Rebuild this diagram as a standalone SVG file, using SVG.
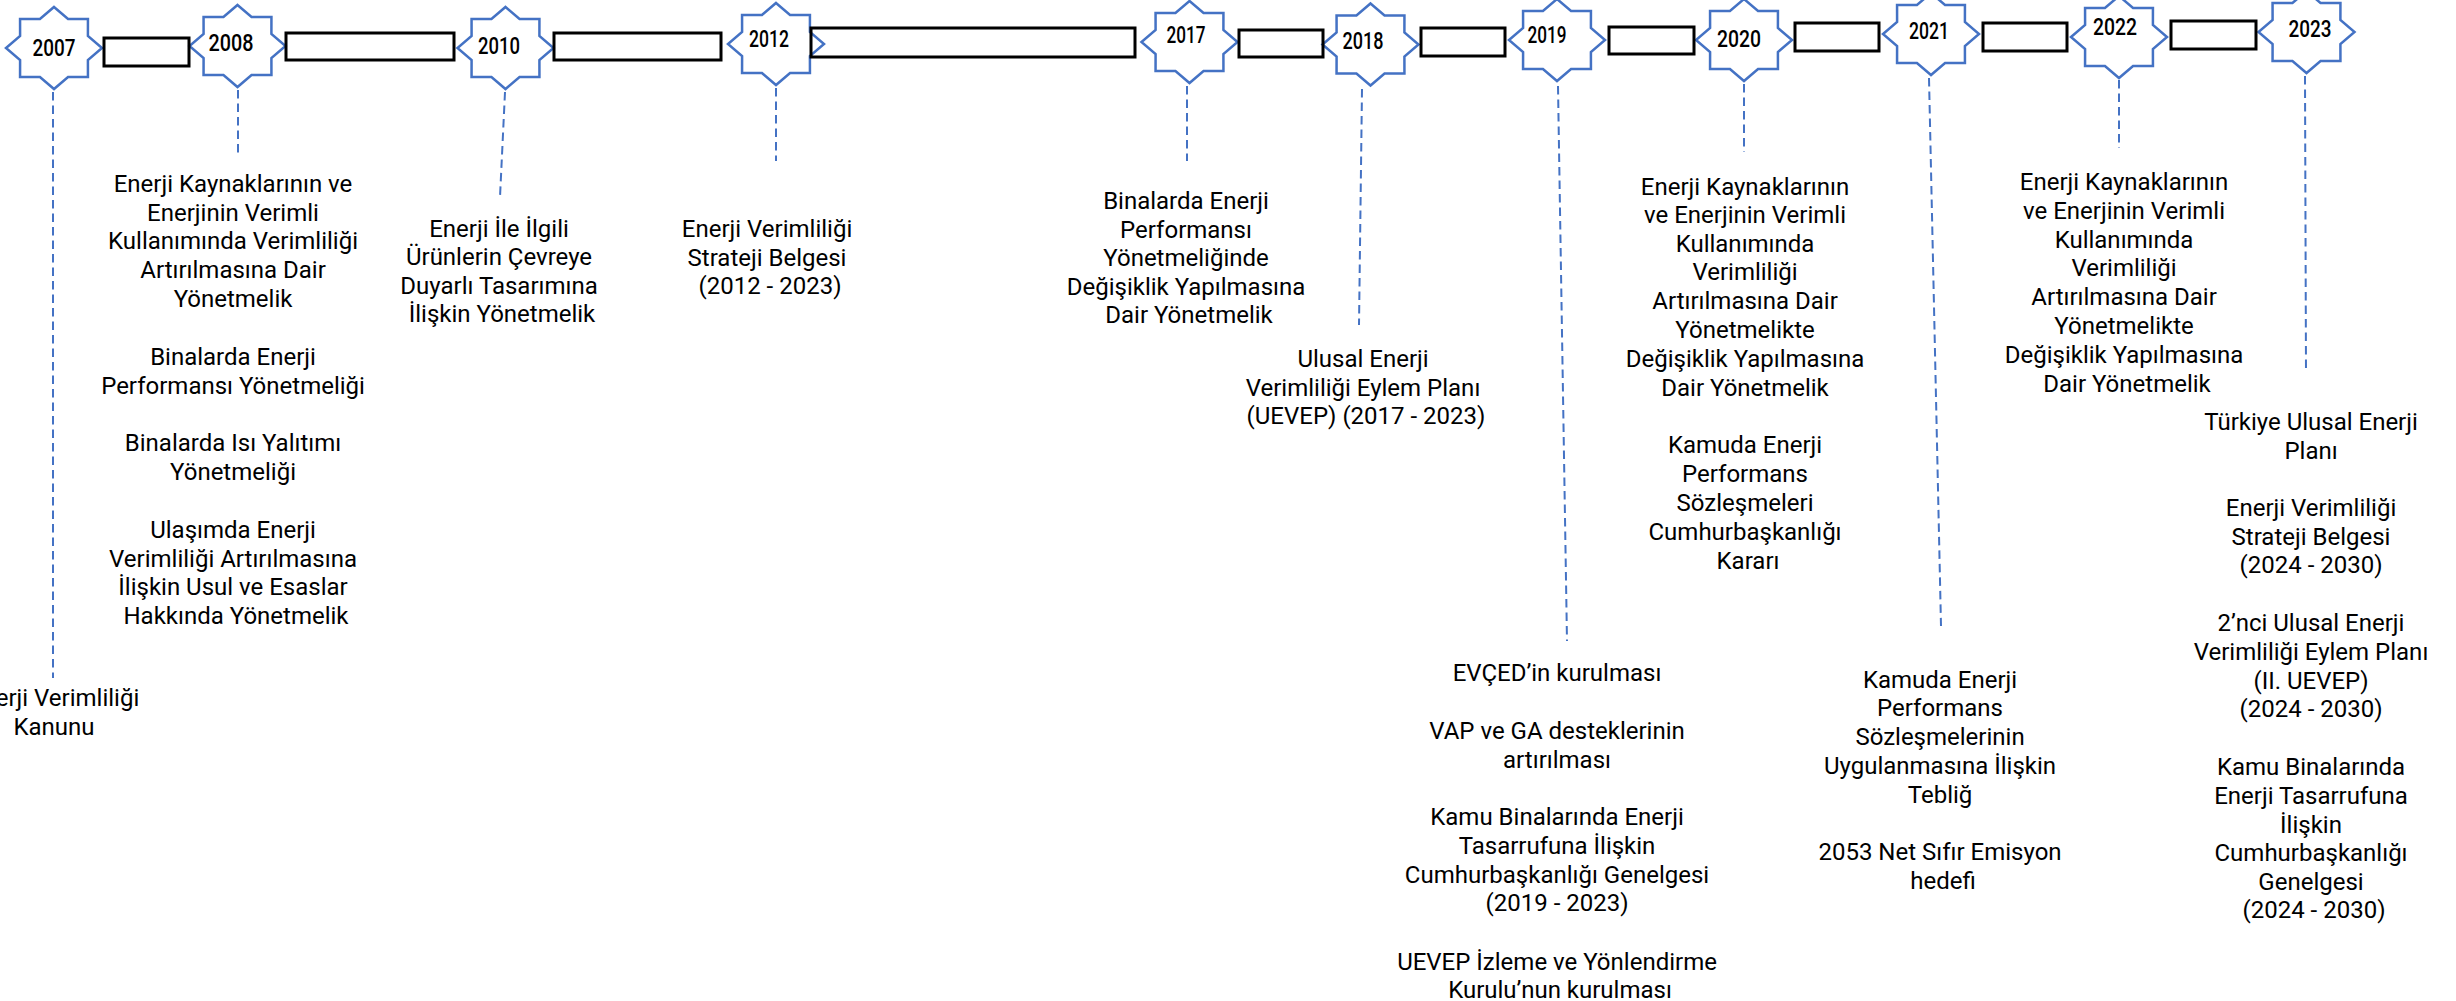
<svg xmlns="http://www.w3.org/2000/svg" xmlns:xlink="http://www.w3.org/1999/xlink" width="2456" height="1001" viewBox="0 0 2456 1001">
<defs>
<style>
.star{fill:#fff;stroke:#4472C4;stroke-width:2.5;stroke-linejoin:miter}
.bar{fill:none;stroke:#000;stroke-width:3}
.dash{fill:none;stroke:#4472C4;stroke-width:2;stroke-dasharray:8.5 5}
.yr{font-family:Roboto,"Liberation Sans",sans-serif;font-size:23px;font-weight:500;fill:#000;text-anchor:middle}
.tx{font-family:Roboto,"Liberation Sans",sans-serif;font-size:24px;font-weight:400;fill:#000;text-anchor:middle}
</style>
<path id="star8" d="M0,-41 L14.05,-29 L33.94,-29 L33.91,-12 L48,0 L33.91,12 L33.94,29 L14.05,29 L0,41 L-14.05,29 L-33.94,29 L-33.91,12 L-48,0 L-33.91,-12 L-33.94,-29 L-14.05,-29 Z"/>
</defs>
<rect width="2456" height="1001" fill="#fff"/>

<g id="connectors">
<line class="dash" x1="53" y1="92" x2="53" y2="678"/>
<line class="dash" x1="238" y1="90" x2="238" y2="157"/>
<line class="dash" x1="505" y1="92" x2="500" y2="197"/>
<line class="dash" x1="776" y1="88" x2="776" y2="161"/>
<line class="dash" x1="1187" y1="86" x2="1187" y2="161"/>
<line class="dash" x1="1362" y1="89" x2="1359" y2="325"/>
<line class="dash" x1="1558" y1="86" x2="1567" y2="641"/>
<line class="dash" x1="1744" y1="84" x2="1744" y2="152"/>
<line class="dash" x1="1929" y1="78" x2="1941" y2="626"/>
<line class="dash" x1="2119" y1="80" x2="2119" y2="148"/>
<line class="dash" x1="2305" y1="76" x2="2306" y2="373"/>
</g>

<g id="y2007"><use xlink:href="#star8" class="star" transform="translate(54,48)"/><text class="yr" x="54" y="56" textLength="43" lengthAdjust="spacingAndGlyphs">2007</text></g>
<g id="y2008"><use xlink:href="#star8" class="star" transform="translate(237.5,46)"/><text class="yr" x="231" y="51" textLength="45" lengthAdjust="spacingAndGlyphs">2008</text></g>
<g id="y2010"><use xlink:href="#star8" class="star" transform="translate(505.5,48)"/><text class="yr" x="499" y="54" textLength="42" lengthAdjust="spacingAndGlyphs">2010</text></g>
<g id="y2012"><use xlink:href="#star8" class="star" transform="translate(776,44)"/><text class="yr" x="769" y="47" textLength="40" lengthAdjust="spacingAndGlyphs">2012</text></g>
<g id="y2017"><use xlink:href="#star8" class="star" transform="translate(1189.5,42)"/><text class="yr" x="1186" y="43" textLength="39" lengthAdjust="spacingAndGlyphs">2017</text></g>
<g id="y2018"><use xlink:href="#star8" class="star" transform="translate(1370.5,44.5)"/><text class="yr" x="1363" y="49" textLength="41" lengthAdjust="spacingAndGlyphs">2018</text></g>
<g id="y2019"><use xlink:href="#star8" class="star" transform="translate(1557,40)"/><text class="yr" x="1547" y="43" textLength="39" lengthAdjust="spacingAndGlyphs">2019</text></g>
<g id="y2020"><use xlink:href="#star8" class="star" transform="translate(1744,40)"/><text class="yr" x="1739" y="47" textLength="44" lengthAdjust="spacingAndGlyphs">2020</text></g>
<g id="y2021"><use xlink:href="#star8" class="star" transform="translate(1931,34)"/><text class="yr" x="1929" y="39" textLength="40" lengthAdjust="spacingAndGlyphs">2021</text></g>
<g id="y2022"><use xlink:href="#star8" class="star" transform="translate(2119,37)"/><text class="yr" x="2115" y="35" textLength="44" lengthAdjust="spacingAndGlyphs">2022</text></g>
<g id="y2023"><use xlink:href="#star8" class="star" transform="translate(2306.5,32)"/><text class="yr" x="2310" y="37" textLength="43" lengthAdjust="spacingAndGlyphs">2023</text></g>

<g id="bars">
<rect class="bar" x="104" y="38" width="85" height="28"/>
<rect class="bar" x="286" y="33" width="168" height="27"/>
<rect class="bar" x="554" y="33" width="167" height="27"/>
<rect class="bar" x="811" y="28" width="324" height="29"/>
<rect class="bar" x="1239" y="30" width="84" height="27"/>
<rect class="bar" x="1421" y="28" width="84" height="28"/>
<rect class="bar" x="1609" y="27" width="85" height="27"/>
<rect class="bar" x="1795" y="23" width="84" height="28"/>
<rect class="bar" x="1983" y="23" width="84" height="28"/>
<rect class="bar" x="2171" y="21" width="85" height="28"/>
</g>

<g id="t2007"><text class="tx"><tspan x="54" y="706">Enerji Verimliliği</tspan><tspan x="54" y="735">Kanunu</tspan></text></g>

<g id="t2008"><text class="tx">
<tspan x="236" y="192">Enerji Kaynaklarının ve</tspan>
<tspan x="236" y="221">Enerjinin Verimli</tspan>
<tspan x="236" y="249">Kullanımında Verimliliği</tspan>
<tspan x="236" y="278">Artırılmasına Dair</tspan>
<tspan x="236" y="307">Yönetmelik</tspan>
<tspan x="236" y="365">Binalarda Enerji</tspan>
<tspan x="236" y="394">Performansı Yönetmeliği</tspan>
<tspan x="236" y="451">Binalarda Isı Yalıtımı</tspan>
<tspan x="236" y="480">Yönetmeliği</tspan>
<tspan x="236" y="538">Ulaşımda Enerji</tspan>
<tspan x="236" y="567">Verimliliği Artırılmasına</tspan>
<tspan x="236" y="595">İlişkin Usul ve Esaslar</tspan>
<tspan x="236" y="624">Hakkında Yönetmelik</tspan>
</text></g>

<g id="t2010"><text class="tx">
<tspan x="502" y="237">Enerji İle İlgili</tspan>
<tspan x="502" y="265">Ürünlerin Çevreye</tspan>
<tspan x="502" y="294">Duyarlı Tasarımına</tspan>
<tspan x="502" y="322">İlişkin Yönetmelik</tspan>
</text></g>

<g id="t2012"><text class="tx">
<tspan x="770" y="237">Enerji Verimliliği</tspan>
<tspan x="770" y="266">Strateji Belgesi</tspan>
<tspan x="770" y="294">(2012 - 2023)</tspan>
</text></g>

<g id="t2017"><text class="tx">
<tspan x="1189" y="209">Binalarda Enerji</tspan>
<tspan x="1189" y="238">Performansı</tspan>
<tspan x="1189" y="266">Yönetmeliğinde</tspan>
<tspan x="1189" y="295">Değişiklik Yapılmasına</tspan>
<tspan x="1189" y="323">Dair Yönetmelik</tspan>
</text></g>

<g id="t2018"><text class="tx">
<tspan x="1366" y="367">Ulusal Enerji</tspan>
<tspan x="1366" y="396">Verimliliği Eylem Planı</tspan>
<tspan x="1366" y="424">(UEVEP) (2017 - 2023)</tspan>
</text></g>

<g id="t2019"><text class="tx">
<tspan x="1560" y="681">EVÇED’in kurulması</tspan>
<tspan x="1560" y="739">VAP ve GA desteklerinin</tspan>
<tspan x="1560" y="768">artırılması</tspan>
<tspan x="1560" y="825">Kamu Binalarında Enerji</tspan>
<tspan x="1560" y="854">Tasarrufuna İlişkin</tspan>
<tspan x="1560" y="883">Cumhurbaşkanlığı Genelgesi</tspan>
<tspan x="1560" y="911">(2019 - 2023)</tspan>
<tspan x="1560" y="970">UEVEP İzleme ve Yönlendirme</tspan>
<tspan x="1560" y="998">Kurulu’nun kurulması</tspan>
</text></g>

<g id="t2020"><text class="tx">
<tspan x="1748" y="195">Enerji Kaynaklarının</tspan>
<tspan x="1748" y="223">ve Enerjinin Verimli</tspan>
<tspan x="1748" y="252">Kullanımında</tspan>
<tspan x="1748" y="280">Verimliliği</tspan>
<tspan x="1748" y="309">Artırılmasına Dair</tspan>
<tspan x="1748" y="338">Yönetmelikte</tspan>
<tspan x="1748" y="367">Değişiklik Yapılmasına</tspan>
<tspan x="1748" y="396">Dair Yönetmelik</tspan>
<tspan x="1748" y="453">Kamuda Enerji</tspan>
<tspan x="1748" y="482">Performans</tspan>
<tspan x="1748" y="511">Sözleşmeleri</tspan>
<tspan x="1748" y="540">Cumhurbaşkanlığı</tspan>
<tspan x="1748" y="569">Kararı</tspan>
</text></g>

<g id="t2021"><text class="tx">
<tspan x="1943" y="688">Kamuda Enerji</tspan>
<tspan x="1943" y="716">Performans</tspan>
<tspan x="1943" y="745">Sözleşmelerinin</tspan>
<tspan x="1943" y="774">Uygulanmasına İlişkin</tspan>
<tspan x="1943" y="803">Tebliğ</tspan>
<tspan x="1943" y="860">2053 Net Sıfır Emisyon</tspan>
<tspan x="1943" y="889">hedefi</tspan>
</text></g>

<g id="t2022"><text class="tx">
<tspan x="2127" y="190">Enerji Kaynaklarının</tspan>
<tspan x="2127" y="219">ve Enerjinin Verimli</tspan>
<tspan x="2127" y="248">Kullanımında</tspan>
<tspan x="2127" y="276">Verimliliği</tspan>
<tspan x="2127" y="305">Artırılmasına Dair</tspan>
<tspan x="2127" y="334">Yönetmelikte</tspan>
<tspan x="2127" y="363">Değişiklik Yapılmasına</tspan>
<tspan x="2127" y="392">Dair Yönetmelik</tspan>
</text></g>

<g id="t2023"><text class="tx">
<tspan x="2314" y="430">Türkiye Ulusal Enerji</tspan>
<tspan x="2314" y="459">Planı</tspan>
<tspan x="2314" y="516">Enerji Verimliliği</tspan>
<tspan x="2314" y="545">Strateji Belgesi</tspan>
<tspan x="2314" y="573">(2024 - 2030)</tspan>
<tspan x="2314" y="631">2’nci Ulusal Enerji</tspan>
<tspan x="2314" y="660">Verimliliği Eylem Planı</tspan>
<tspan x="2314" y="689">(II. UEVEP)</tspan>
<tspan x="2314" y="717">(2024 - 2030)</tspan>
<tspan x="2314" y="775">Kamu Binalarında</tspan>
<tspan x="2314" y="804">Enerji Tasarrufuna</tspan>
<tspan x="2314" y="833">İlişkin</tspan>
<tspan x="2314" y="861">Cumhurbaşkanlığı</tspan>
<tspan x="2314" y="890">Genelgesi</tspan>
<tspan x="2314" y="918">(2024 - 2030)</tspan>
</text></g>
</svg>
